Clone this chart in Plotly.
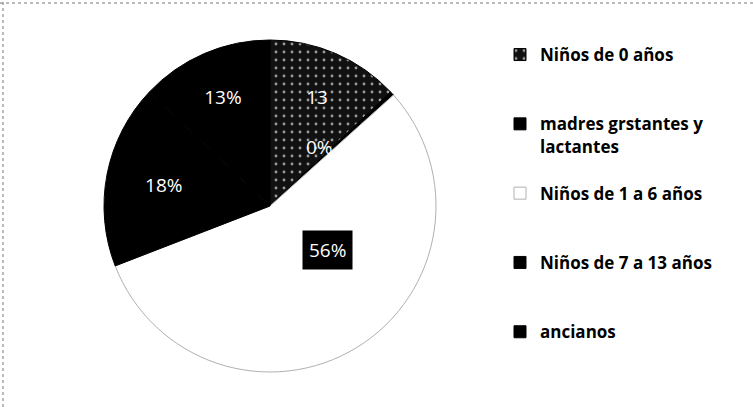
import plotly.graph_objects as go

# ---- data ----
categories = ["Niños de 0 años", "madres grstantes y<br>lactantes", "Niños de 1 a 6 años",
              "Niños de 7 a 13 años", "ancianos"]
values = [13, 0.4, 56, 18, 13]
value_labels = ["13", "0%", "56%", "18%", "13%"]

slice_colors = ["#111111", "#000000", "#ffffff", "#000000", "#000000"]
edge_colors = ["#000000", "#000000", "#b0b0b0", "#000000", "#000000"]
patterns = [".", "", "", "", ""]

# extra blank lines give the legend the same loose spacing as the reference
pad_lines = [2, 1, 2, 2, 0]
legend_labels = [c + "<br> " * n for c, n in zip(categories, pad_lines)]

# labels drawn inside by the pie itself; two others are drawn as annotations
inside_idx = [0, 3, 4]
positions = ["inside" if i in inside_idx else "none" for i in range(len(values))]

W, H = 753, 407
CX, CY, R = 270, 206, 166  # pie centre / radius in pixels

fig = go.Figure()
fig.add_trace(go.Pie(
    labels=legend_labels,
    values=values,
    text=value_labels,
    texttemplate="%{text}",
    textposition=positions,
    insidetextorientation="horizontal",
    insidetextfont=dict(family="Open Sans", size=19, color="white"),
    sort=False,
    direction="clockwise",
    rotation=0,
    marker=dict(colors=slice_colors,
                line=dict(color=edge_colors, width=1),
                pattern=dict(shape=patterns, fgcolor="#9a9a9a", bgcolor="#111111",
                             size=8, solidity=0.1)),
    domain=dict(x=[(CX - R - 30) / W, (CX + R + 30) / W],
                y=[(H - CY - R) / H, (H - CY + R) / H]),
    hoverinfo="skip",
))

# "0%" and "56%" labels
fig.add_annotation(x=319 / W, y=1 - 132 / H, xref="paper", yref="paper",
                   text=value_labels[1], showarrow=False,
                   font=dict(family="Open Sans", size=19, color="white"))
fig.add_annotation(x=327 / W, y=1 - 250 / H, xref="paper", yref="paper",
                   text=value_labels[2], showarrow=False, bgcolor="black", borderpad=6,
                   font=dict(family="Open Sans", size=19, color="white"))

# scanned frame edges (dotted top and left border)
fig.add_shape(type="line", xref="paper", yref="paper", x0=0, x1=1, y0=1 - 3 / H, y1=1 - 3 / H,
              line=dict(color="#777777", width=1, dash="dot"))
fig.add_shape(type="line", xref="paper", yref="paper", x0=3 / W, x1=3 / W, y0=0, y1=1,
              line=dict(color="#777777", width=1, dash="dot"))

fig.update_layout(
    width=W, height=H,
    margin=dict(l=0, r=0, t=0, b=0),
    paper_bgcolor="white", plot_bgcolor="white",
    showlegend=True,
    legend=dict(x=500 / W, y=1 - 37 / H, xanchor="left", yanchor="top",
                valign="top", traceorder="normal",
                font=dict(family="Open Sans", size=17, color="black", weight="bold"),
                bgcolor="rgba(0,0,0,0)"),
)

fig.write_html("out.html", config={"displayModeBar": False},
               post_script="document.body.style.margin='0';document.body.style.overflow='hidden';")
